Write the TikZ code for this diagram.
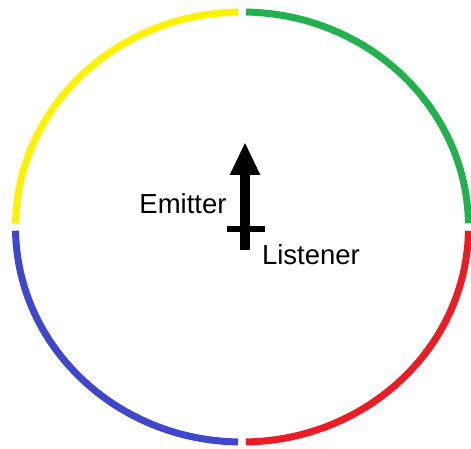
\documentclass[tikz,border=0pt]{standalone}
\usepackage{fontspec}
\setmainfont{Liberation Sans}
\usepackage{xcolor}
\usepackage{tikz}
\usetikzlibrary{arrows.meta}

\definecolor{paintYellow}{HTML}{FFF200}
\definecolor{paintGreen}{HTML}{22B14C}
\definecolor{paintRed}{HTML}{ED1C24}
\definecolor{paintBlue}{HTML}{3F48CC}

\begin{document}
\begin{tikzpicture}[x = 1pt, y = 1pt,
  quadrant/.style = {line width = 7pt},
  soundLabel/.style = {inner sep = 0pt, font = \fontsize{27.5}{32}\selectfont}]
\def\cx{242}
\def\cy{222}
\def\rx{226.5}
\def\ry{215}
\def\gap{1}

\useasboundingbox (0, 0) rectangle (471, 449);

% quadrants
\draw [quadrant, paintGreen] (\cx, \cy) ++(0+\gap : \rx pt and \ry pt) arc [start angle = 0+\gap, end angle = 90-\gap, x radius = \rx, y radius = \ry];
\draw [quadrant, paintYellow] (\cx, \cy) ++(90+\gap : \rx pt and \ry pt) arc [start angle = 90+\gap, end angle = 180-\gap, x radius = \rx, y radius = \ry];
\draw [quadrant, paintBlue] (\cx, \cy) ++(180+\gap : \rx pt and \ry pt) arc [start angle = 180+\gap, end angle = 270-\gap, x radius = \rx, y radius = \ry];
\draw [quadrant, paintRed] (\cx, \cy) ++(270+\gap : \rx pt and \ry pt) arc [start angle = 270+\gap, end angle = 360-\gap, x radius = \rx, y radius = \ry];

% emitter and listener
\coordinate (listenerPos) at (245, 199);
\coordinate (emitterTip) at (245, 307);
\coordinate (barLeft) at (227, 220);
\coordinate (barRight) at (265, 220);
\draw [line width = 10pt, -{Triangle[length = 33pt, width = 28pt]}] (listenerPos) -- (emitterTip);
\draw [line width = 6pt] (barLeft) -- (barRight);

\node [soundLabel] (emitter) at (183, 245) {Emitter};
\node [soundLabel] (listener) at (311, 194) {Listener};
\end{tikzpicture}
\end{document}
